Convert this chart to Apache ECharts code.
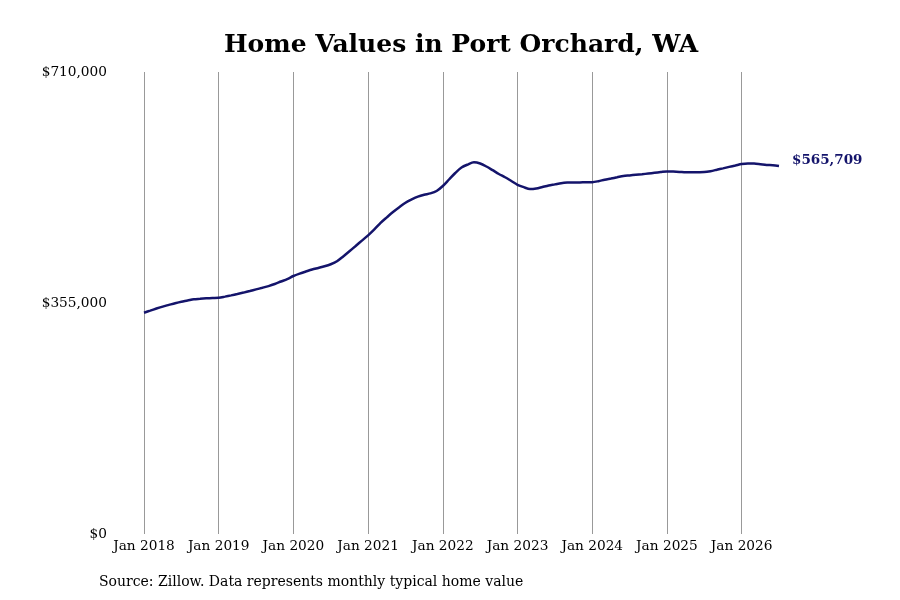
<!DOCTYPE html>
<html lang="en">
<head>
    <meta charset="UTF-8">
    <title>Home Values in Port Orchard, WA</title>
    <script src="https://cdn.jsdelivr.net/npm/echarts@6.0.0/dist/echarts.min.js"></script>
    <style>
        html, body { margin: 0; padding: 0; background: #fff; }
        #chart { width: 900px; height: 600px; }
    </style>
</head>
<body>
    <div id="chart"></div>

    <script>
        // typical home value, monthly from Jan 2018
        var v2018 = [340100, 343300, 346500, 349500, 352100, 354700, 357000, 358800, 360800, 361500, 362200, 362700];
        var v2019 = [363100, 364800, 366700, 368800, 371000, 373400, 375900, 378400, 381000, 384200, 388000, 391700];
        var v2020 = [396500, 400200, 403400, 406500, 408900, 411400, 414600, 419100, 426500, 434500, 442600, 450900];
        var v2021 = [459000, 468100, 478100, 486600, 494800, 502100, 509100, 514100, 518400, 521300, 523400, 527100];
        var v2022 = [534800, 544800, 554800, 563200, 567800, 571200, 569400, 564800, 559100, 553200, 548200, 542500];
        var v2023 = [536700, 533000, 530200, 531000, 533300, 535600, 537300, 539100, 540000, 540200, 540300, 540500];
        var v2024 = [540600, 542200, 544500, 546300, 548200, 550200, 551100, 552000, 552900, 554000, 555100, 556200];
        var v2025 = [557200, 556900, 556500, 556000, 555900, 556000, 556200, 557600, 559700, 561900, 564200, 566300];
        var v2026 = [568500, 569400, 569200, 568200, 567100, 566800, 565709];

        var startYear = 2018;
        var monthNames = ['Jan', 'Feb', 'Mar', 'Apr', 'May', 'Jun', 'Jul', 'Aug', 'Sep', 'Oct', 'Nov', 'Dec'];
        var yTicks = [0, 355000, 710000];

        var values = [].concat(v2018, v2019, v2020, v2021, v2022, v2023, v2024, v2025, v2026);
        var months = values.map(function (v, i) {
            return monthNames[i % 12] + ' ' + (startYear + Math.floor(i / 12));
        });

        function money(v) {
            return '$' + Math.round(v).toString().replace(/\B(?=(\d{3})+(?!\d))/g, ',');
        }

        var chart = echarts.init(document.getElementById('chart'));
        var serif = '"DejaVu Serif", "Liberation Serif", serif';
        var isJan = function (i) { return i % 12 === 0; };

        chart.setOption({
            backgroundColor: '#fff',
            animation: false,
            title: {
                text: 'Home Values in Port Orchard, WA',
                left: 456,
                textAlign: 'center',
                top: 28,
                textStyle: { fontFamily: serif, fontSize: 25, fontWeight: 'bold', color: '#000' }
            },
            grid: { left: 144, right: 121, top: 72, bottom: 66 },
            xAxis: {
                type: 'category',
                data: months,
                boundaryGap: false,
                axisLine: { show: false },
                axisTick: { show: false },
                axisLabel: {
                    interval: isJan,
                    margin: 5,
                    color: '#000',
                    fontFamily: serif,
                    fontSize: 13.7
                },
                splitLine: {
                    show: true,
                    interval: isJan,
                    lineStyle: { color: '#999', width: 1 }
                }
            },
            yAxis: {
                type: 'value',
                min: yTicks[0],
                max: yTicks[2],
                interval: yTicks[1],
                axisLine: { show: false },
                axisTick: { show: false },
                splitLine: { show: false },
                axisLabel: {
                    margin: 37,
                    color: '#000',
                    fontFamily: serif,
                    fontSize: 13.7,
                    formatter: money
                }
            },
            series: [{
                type: 'line',
                data: values,
                smooth: 0.3,
                showSymbol: false,
                lineStyle: { color: '#14146b', width: 2.5 },
                endLabel: {
                    show: true,
                    distance: 13,
                    offset: [0, -5],
                    formatter: function (p) { return money(p.value); },
                    color: '#14146b',
                    fontFamily: serif,
                    fontSize: 13.5,
                    fontWeight: 'bold'
                }
            }],
            graphic: [{
                type: 'text',
                left: 99,
                top: 575,
                style: {
                    text: 'Source: Zillow. Data represents monthly typical home value',
                    fill: '#000',
                    font: '14px "DejaVu Serif", "Liberation Serif", serif'
                }
            }]
        });
    </script>
</body>
</html>
